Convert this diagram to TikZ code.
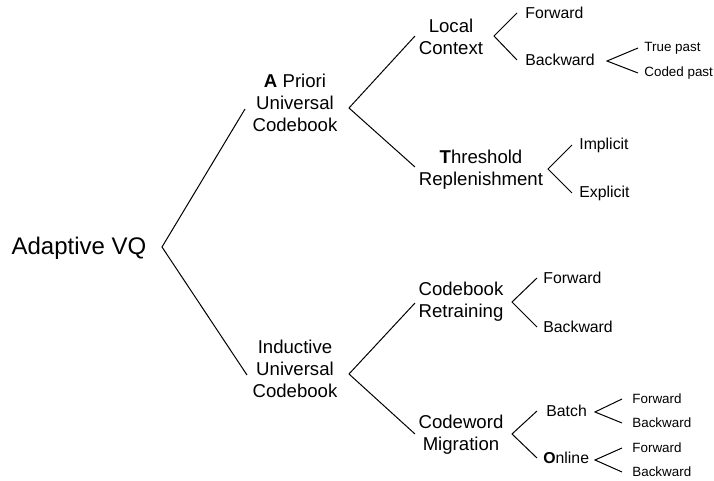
\documentclass[tikz,border=0pt]{standalone}
\usepackage{fontspec}
\setmainfont{Liberation Sans}
\usepackage{tikz}
\usetikzlibrary{calc, positioning}
\tikzstyle{rootnode} = [inner sep=0pt, font=\fontsize{12}{14}\selectfont]
\tikzstyle{mainnode} = [inner sep=0pt, align=center, font=\fontsize{9.3}{11}\selectfont]
\tikzstyle{subnode} = [inner sep=0pt, anchor=west, font=\fontsize{7.9}{9}\selectfont]
\tikzstyle{leafnode} = [inner sep=0pt, anchor=west, font=\fontsize{6.7}{8}\selectfont]
\tikzstyle{support} = [coordinate]
\tikzstyle{branch} = [line width=0.5pt, line join=miter]

\begin{document}
\begin{tikzpicture}[x=0.5pt, y=-0.5pt]
	\useasboundingbox (0,0) rectangle (714,481);
	% root and its two main branches
	\node (Root) [rootnode] at (79,248) {Adaptive VQ};
	\node (RootFork) [support] at (162,247) {};
	\node (RootUp) [support] at (245,109) {};
	\node (RootDown) [support] at (247,375) {};
	\node (APriori) [mainnode] at (295,103) {\textbf{A} Priori\\Universal\\Codebook};
	\node (Inductive) [mainnode] at (295,369) {Inductive\\Universal\\Codebook};
	\draw [branch] (RootUp) -- (RootFork) -- (RootDown);
	% a priori universal codebook
	\node (APFork) [support] at (349,108) {};
	\node (APUp) [support] at (415,36) {};
	\node (APDown) [support] at (415,167) {};
	\draw [branch] (APUp) -- (APFork) -- (APDown);
	\node (LocalCtx) [mainnode] at (451,37) {Local\\Context};
	\node (Threshold) [mainnode] at (481,170) {\textbf{T}hreshold\\Replenishment};
	\node (LCFork) [support] at (494,36) {};
	\node (LCUp) [support] at (517,13) {};
	\node (LCDown) [support] at (517,60) {};
	\draw [branch] (LCUp) -- (LCFork) -- (LCDown);
	\node (LCForward) [subnode, right = 4pt of LCUp] {Forward};
	\node (LCBackward) [subnode, right = 4pt of LCDown] {Backward};
	\node (BwFork) [support] at (607,61) {};
	\node (BwUp) [support] at (638,48) {};
	\node (BwDown) [support] at (638,73) {};
	\draw [branch] (BwUp) -- (BwFork) -- (BwDown);
	\node (TruePast) [leafnode, right = 3pt of BwUp] {True past};
	\node (CodedPast) [leafnode, right = 3pt of BwDown] {Coded past};
	\node (THFork) [support] at (548,169) {};
	\node (THUp) [support] at (572,145) {};
	\node (THDown) [support] at (572,193) {};
	\draw [branch] (THUp) -- (THFork) -- (THDown);
	\node (Implicit) [subnode, right = 3.5pt of THUp] {Implicit};
	\node (Explicit) [subnode, right = 3.5pt of THDown] {Explicit};
	% inductive universal codebook
	\node (INFork) [support] at (349,374) {};
	\node (INUp) [support] at (415,303) {};
	\node (INDown) [support] at (415,434) {};
	\draw [branch] (INUp) -- (INFork) -- (INDown);
	\node (Retraining) [mainnode] at (461,302) {Codebook\\Retraining};
	\node (Migration) [mainnode] at (461,435) {Codeword\\Migration};
	\node (RTFork) [support] at (512,302) {};
	\node (RTUp) [support] at (537,278) {};
	\node (RTDown) [support] at (537,327) {};
	\draw [branch] (RTUp) -- (RTFork) -- (RTDown);
	\node (RTForward) [subnode, right = 3pt of RTUp] {Forward};
	\node (RTBackward) [subnode, right = 3pt of RTDown] {Backward};
	\node (MGFork) [support] at (512,434) {};
	\node (MGUp) [support] at (537,411) {};
	\node (MGDown) [support] at (537,458) {};
	\draw [branch] (MGUp) -- (MGFork) -- (MGDown);
	\node (Batch) [subnode, right = 4.5pt of MGUp] {Batch};
	\node (Online) [subnode, right = 3pt of MGDown] {\textbf{O}nline};
	\node (BAFork) [support] at (595,412) {};
	\node (BAUp) [support] at (622,399) {};
	\node (BADown) [support] at (622,423) {};
	\draw [branch] (BAUp) -- (BAFork) -- (BADown);
	\node (BAForward) [leafnode, right = 5pt of BAUp] {Forward};
	\node (BABackward) [leafnode, right = 5pt of BADown] {Backward};
	\node (ONFork) [support] at (595,460) {};
	\node (ONUp) [support] at (622,448) {};
	\node (ONDown) [support] at (622,472) {};
	\draw [branch] (ONUp) -- (ONFork) -- (ONDown);
	\node (ONForward) [leafnode, right = 5pt of ONUp] {Forward};
	\node (ONBackward) [leafnode, right = 5pt of ONDown] {Backward};
\end{tikzpicture}
\end{document}
